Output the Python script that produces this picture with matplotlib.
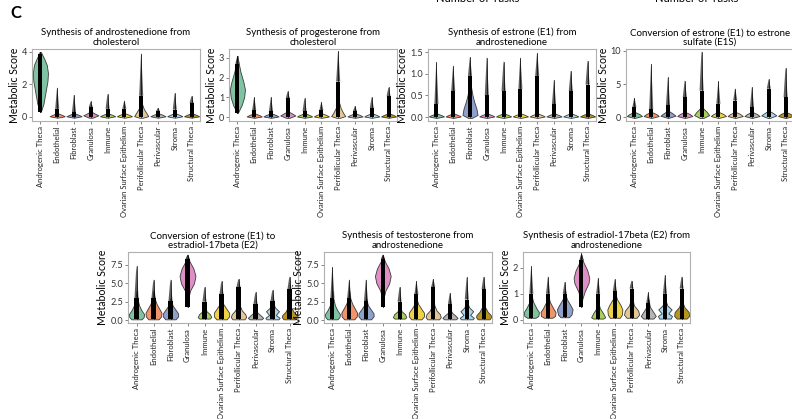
import numpy as np
import matplotlib
matplotlib.use("Agg")
import matplotlib.pyplot as plt

plt.rcParams['font.family'] = ['Lato', 'DejaVu Sans']

categories = ['Androgenic Theca', 'Endothelial', 'Fibroblast', 'Granulosa', 'Immune',
              'Ovarian Surface Epithelium', 'Perifollicular Theca', 'Perivascular',
              'Stroma', 'Structural Theca']
colors = ['#7fc3a2', '#f0946c', '#8fa0cc', '#dd8fc6', '#a8d15a',
          '#f0d247', '#e3c896', '#b5b5b5', '#a9d7f0', '#b8951e']

titles = ['Synthesis of androstenedione from\ncholesterol',
          'Synthesis of progesterone from\ncholesterol',
          'Synthesis of estrone (E1) from\nandrostenedione',
          'Conversion of estrone (E1) to estrone\nsulfate (E1S)',
          'Conversion of estrone (E1) to\nestradiol-17beta (E2)',
          'Synthesis of testosterone from\nandrostenedione',
          'Synthesis of estradiol-17beta (E2) from\nandrostenedione']

ylims = [(-0.25, 4.18), (-0.2, 3.45), (-0.09, 1.57), (-0.6, 10.3),
         (-0.4, 9.27), (-0.4, 9.27), (-0.12, 2.6)]
yticks = [[0, 2, 4], [0, 1, 2, 3], [0, 0.5, 1.0, 1.5], [0, 5, 10],
          [0, 2.5, 5.0, 7.5], [0, 2.5, 5.0, 7.5], [0, 1, 2]]
ytick_labels = [['0', '2', '4'], ['0', '1', '2', '3'], ['0.0', '0.5', '1.0', '1.5'],
                ['0', '5', '10'], ['0.0', '2.5', '5.0', '7.5'],
                ['0.0', '2.5', '5.0', '7.5'], ['0', '1', '2']]

# point cloud extents per category: lowest point, top of dense band, highest point
pmin_1 = [0.3, 0, 0, 0, 0, 0, 0, 0, 0, 0]
dense_1 = [3.9, 0.5, 0.3, 0.6, 0.5, 0.5, 1.3, 0.35, 0.45, 0.85]
pmax_1 = [4.0, 1.8, 1.35, 0.95, 1.4, 1.0, 3.9, 0.55, 1.45, 1.28]

pmin_2 = [0.2, 0, 0, 0, 0, 0, 0, 0, 0, 0]
dense_2 = [2.7, 0.35, 0.3, 0.95, 0.3, 0.35, 1.8, 0.3, 0.45, 1.05]
pmax_2 = [3.1, 1.0, 1.0, 1.3, 0.95, 0.75, 3.35, 0.55, 1.0, 1.5]

pmin_3 = [0, 0, 0, 0, 0, 0, 0, 0, 0, 0]
dense_3 = [0.3, 0.6, 0.95, 0.5, 0.6, 0.65, 0.95, 0.3, 0.6, 0.75]
pmax_3 = [1.26, 1.18, 1.38, 1.37, 1.28, 1.37, 1.48, 0.85, 1.06, 1.3]

pmin_4 = [0, 0, 0, 0, 0, 0, 0, 0, 0, 0]
dense_4 = [1.5, 1.2, 1.8, 3.0, 4.0, 2.0, 2.5, 1.5, 4.3, 3.0]
pmax_4 = [2.9, 8.0, 6.0, 5.5, 9.9, 5.4, 4.3, 4.5, 5.7, 7.4]

pmin_5 = [0.1, 0.1, 0.1, 1.8, 0.2, 0.1, 0.1, 0.1, 0.1, 0.1]
dense_5 = [3.0, 3.0, 2.6, 8.3, 2.5, 3.5, 4.5, 2.2, 2.6, 4.2]
pmax_5 = [7.3, 5.5, 5.5, 8.9, 4.5, 5.3, 5.6, 3.8, 4.1, 5.9]

pmin_6 = [0.1, 0.1, 0.1, 1.8, 0.2, 0.1, 0.1, 0.1, 0.1, 0.1]
dense_6 = [3.0, 3.0, 2.6, 8.3, 2.5, 3.5, 4.5, 2.2, 2.8, 4.2]
pmax_6 = [7.2, 5.5, 5.5, 8.9, 4.5, 5.3, 5.6, 3.7, 5.8, 5.9]

pmin_7 = [0.08, 0.08, 0.1, 0.5, 0.05, 0.08, 0.08, 0.05, 0.05, 0.05]
dense_7 = [1.0, 1.0, 1.0, 2.3, 1.0, 1.1, 1.2, 0.65, 1.0, 1.2]
pmax_7 = [2.05, 1.65, 1.45, 2.55, 1.6, 1.55, 1.5, 1.05, 1.7, 1.65]

# violin outlines: (y knots, half widths)
flat_1 = ([-0.05, 0.04, 0.12, 0.24], [0.0, 0.45, 0.3, 0])
shapes_1 = [([0.3, 0.8, 1.5, 2.2, 2.7, 3.2, 3.6, 4.0], [0.02, 0.18, 0.3, 0.42, 0.45, 0.38, 0.22, 0.02]),
            flat_1, flat_1,
            ([-0.05, 0.1, 0.2, 0.35], [0.1, 0.45, 0.25, 0]),
            flat_1, flat_1,
            ([-0.05, 0.05, 0.25, 0.5, 0.8, 1.1], [0.1, 0.42, 0.3, 0.15, 0.05, 0]),
            flat_1, flat_1, flat_1]

flat_2 = ([-0.04, 0.03, 0.1, 0.2], [0.0, 0.45, 0.3, 0])
shapes_2 = [([0.2, 0.6, 1.0, 1.4, 1.8, 2.3, 2.8, 3.1], [0.02, 0.25, 0.4, 0.45, 0.35, 0.18, 0.06, 0.01]),
            flat_2, flat_2,
            ([-0.04, 0.08, 0.18, 0.3], [0.1, 0.45, 0.25, 0]),
            flat_2, flat_2,
            ([-0.04, 0.05, 0.2, 0.45, 0.75, 1.0], [0.1, 0.42, 0.3, 0.15, 0.05, 0]),
            flat_2, flat_2, flat_2]

flat_3 = ([-0.02, 0.015, 0.045, 0.09], [0.0, 0.45, 0.3, 0])
shapes_3 = [flat_3, flat_3,
            ([-0.02, 0.05, 0.2, 0.35, 0.5, 0.7, 0.85], [0.1, 0.45, 0.38, 0.25, 0.15, 0.06, 0]),
            flat_3, flat_3, flat_3, flat_3, flat_3, flat_3, flat_3]

flat_4 = ([-0.15, 0.15, 0.45, 0.8], [0.0, 0.45, 0.3, 0])
shapes_4 = [flat_4, flat_4, ([-0.15, 0.2, 0.5, 1.0], [0.0, 0.45, 0.3, 0]), flat_4,
            ([-0.15, 0.3, 0.8, 1.3, 1.8], [0.1, 0.45, 0.3, 0.1, 0]),
            flat_4, flat_4, flat_4,
            ([-0.15, 0.25, 0.6, 1.0], [0.05, 0.45, 0.25, 0]),
            flat_4]

shapes_5 = [([0.1, 0.4, 0.8, 1.3, 2.0, 3.0, 4.0], [0.3, 0.42, 0.45, 0.3, 0.15, 0.05, 0]),
            ([0.1, 0.5, 1.0, 1.5, 2.2, 3.0, 4.0], [0.3, 0.45, 0.47, 0.35, 0.18, 0.06, 0]),
            ([0.1, 0.5, 0.9, 1.4, 2.0, 3.0], [0.3, 0.45, 0.45, 0.3, 0.12, 0]),
            ([1.8, 3.0, 4.0, 5.0, 6.0, 7.0, 8.0, 8.9], [0, 0.05, 0.15, 0.38, 0.47, 0.35, 0.12, 0]),
            ([0.2, 0.4, 0.8, 1.2, 2.0], [0.3, 0.4, 0.32, 0.12, 0]),
            ([0.1, 0.5, 1.0, 1.5, 2.2, 3.0], [0.3, 0.45, 0.45, 0.3, 0.1, 0]),
            ([0.1, 0.4, 0.8, 1.3, 2.0, 3.0], [0.35, 0.45, 0.4, 0.2, 0.07, 0]),
            ([0.1, 0.3, 0.6, 1.0, 1.6], [0.35, 0.45, 0.32, 0.12, 0]),
            ([0.1, 0.3, 0.7, 1.2, 1.7, 2.5], [0.35, 0.42, 0.2, 0.38, 0.15, 0]),
            ([0.1, 0.4, 0.7, 1.1, 1.8, 2.8], [0.35, 0.45, 0.42, 0.25, 0.08, 0])]
shapes_6 = shapes_5

shapes_7 = [([0.08, 0.15, 0.3, 0.45, 0.7, 1.0], [0.25, 0.42, 0.45, 0.3, 0.1, 0]),
            ([0.08, 0.15, 0.3, 0.45, 0.7, 1.0], [0.25, 0.42, 0.45, 0.3, 0.1, 0]),
            ([0.1, 0.2, 0.4, 0.55, 0.8, 1.1], [0.25, 0.4, 0.47, 0.35, 0.12, 0]),
            ([0.5, 0.8, 1.1, 1.4, 1.6, 1.9, 2.2, 2.5], [0, 0.05, 0.2, 0.42, 0.47, 0.35, 0.12, 0]),
            ([0.05, 0.1, 0.25, 0.45, 0.7], [0.3, 0.42, 0.3, 0.1, 0]),
            ([0.08, 0.2, 0.4, 0.55, 0.8, 1.1], [0.3, 0.42, 0.45, 0.35, 0.12, 0]),
            ([0.08, 0.2, 0.35, 0.55, 0.9], [0.3, 0.45, 0.4, 0.15, 0]),
            ([0.05, 0.15, 0.3, 0.5, 0.8], [0.3, 0.45, 0.3, 0.1, 0]),
            ([0.05, 0.15, 0.25, 0.4, 0.55, 0.8], [0.35, 0.42, 0.2, 0.4, 0.15, 0]),
            ([0.05, 0.15, 0.3, 0.5, 0.8], [0.3, 0.45, 0.42, 0.15, 0])]

pmins = [pmin_1, pmin_2, pmin_3, pmin_4, pmin_5, pmin_6, pmin_7]
denses = [dense_1, dense_2, dense_3, dense_4, dense_5, dense_6, dense_7]
pmaxs = [pmax_1, pmax_2, pmax_3, pmax_4, pmax_5, pmax_6, pmax_7]
shapes = [shapes_1, shapes_2, shapes_3, shapes_4, shapes_5, shapes_6, shapes_7]

# axes boxes in pixels: left, right, top, bottom
W, H = 792, 419
boxes = [(32, 200, 49, 121), (229, 397, 49, 121), (428, 596, 49, 121), (626, 794, 49, 121),
         (128, 298, 252, 323), (324, 492, 252, 323), (523, 690, 252, 323)]

fig = plt.figure(figsize=(W / 100, H / 100), dpi=100)

for k in range(7):
    l, r, t, b = boxes[k]
    ax = fig.add_axes([l / W, 1 - b / H, (r - l) / W, (b - t) / H])
    for i in range(len(categories)):
        ys, ws = shapes[k][i]
        ys = np.array(ys, dtype=float)
        ws = np.array(ws, dtype=float)
        ax.fill_betweenx(ys, i - ws, i + ws, facecolor=colors[i],
                         edgecolor='#3a3a3a', linewidth=0.6, zorder=2)
        # dense jittered points
        lo, dn, hi = pmins[k][i], denses[k][i], pmaxs[k][i]
        ax.fill_betweenx([lo, dn], [i - 0.12, i - 0.12], [i + 0.12, i + 0.12],
                         facecolor='black', edgecolor='none', zorder=3)
        ax.fill_betweenx([dn, hi], [i - 0.12, i - 0.01], [i + 0.12, i + 0.01],
                         facecolor='#1a1a1a', edgecolor='none', alpha=0.7, zorder=3)
        ax.plot([i, i], [lo, hi], color='black', lw=0.5, zorder=3)
    ax.set_xlim(-0.5, len(categories) - 0.5)
    ax.set_ylim(*ylims[k])
    ax.set_xticks(range(len(categories)))
    ax.set_xticklabels(categories, rotation=90, fontsize=5.5, color='#222222')
    ax.set_yticks(yticks[k])
    ax.set_yticklabels(ytick_labels[k], fontsize=6.6, color='#333333')
    ax.tick_params(length=2, width=0.5, color='#555555', pad=1.5)
    for s in ax.spines.values():
        s.set_color('#b0b0b0')
        s.set_linewidth(0.8)
    ax.set_ylabel('Metabolic Score', fontsize=7.6, labelpad=1.5)
    ax.set_title(titles[k], fontsize=7.0, pad=3, linespacing=1.05)

fig.text(10 / W, 1 - 13 / H, 'C', fontsize=12, fontweight='bold', va='center', ha='left')
fig.text(478 / W, 1 + 1 / H, 'Number of Tasks', fontsize=8, ha='center', va='center')
fig.text(697 / W, 1 + 1 / H, 'Number of Tasks', fontsize=8, ha='center', va='center')

fig.savefig('out.png', dpi=100)
